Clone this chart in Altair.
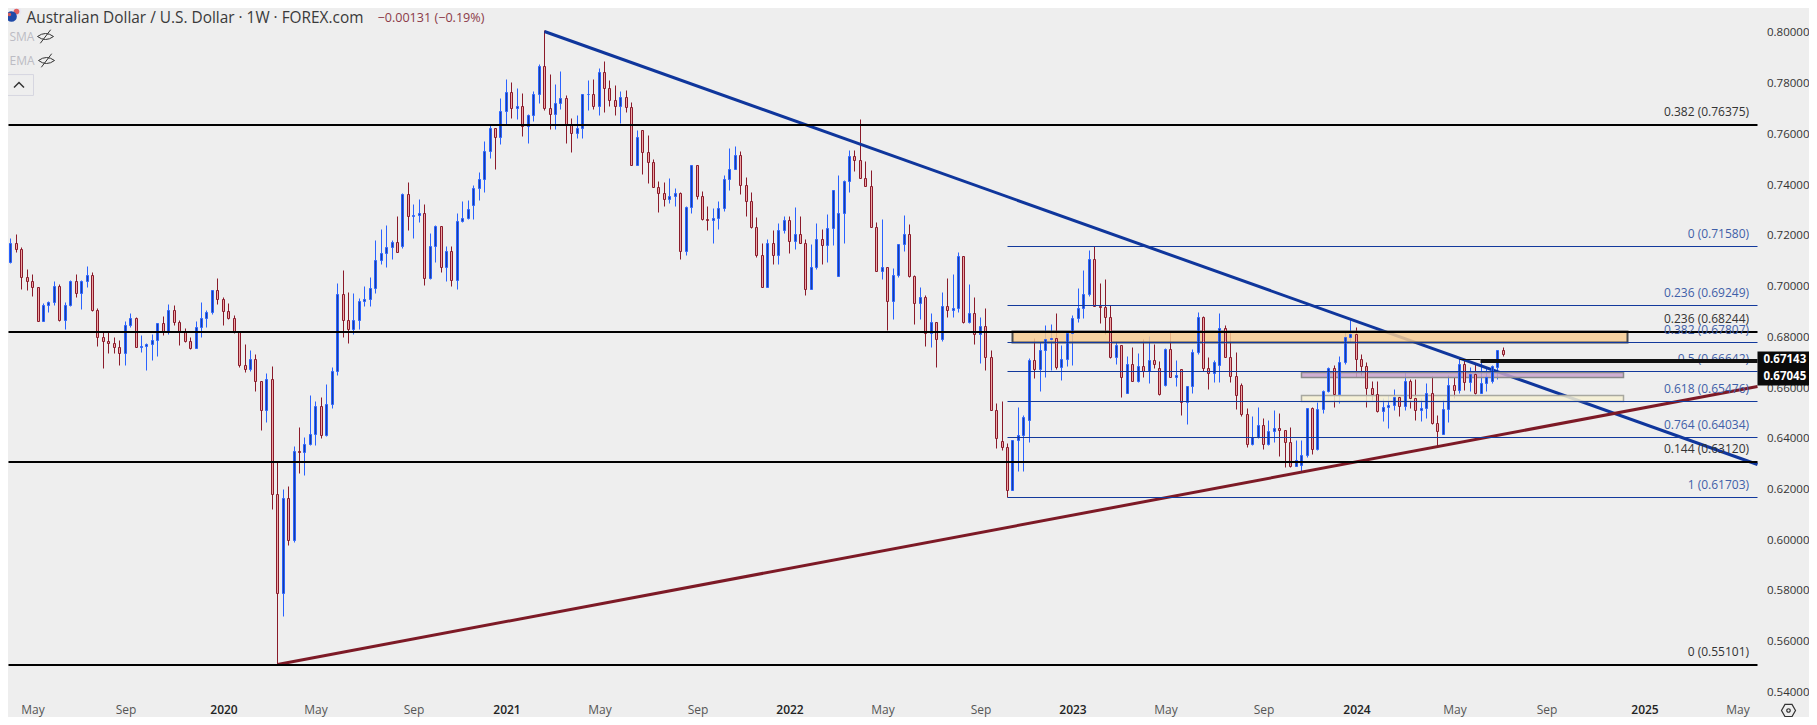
import altair as alt
import pandas as pd

highs = [.7188,.7204,.7154,.7066,.7047,.6997,.6932,.6940,.7020,.7007,.6936,.7024,.7047,.7024,.7079,.7055,.6912,.6823,.6820,.6799,.6787,.6862,.6894,.6879,.6807,.6774,.6811,.6853,.6882,.6929,.6924,.6865,.6833,.6798,.6862,.6937,.6905,.6984,.7030,.6955,.6933,.6884,.6813,.6771,.6748,.6732,.6624,.6657,.6685,
.6308,.6200,.6212,.6369,.6444,.6405,.6569,.6547,.6562,.6614,.6681,.7012,.7063,.6976,.6972,.6951,.7000,.7034,.7180,.7225,.7240,.7181,.7276,.7368,.7410,.7323,.7343,.7323,.7209,.7240,.7237,.7158,
.7158,.7287,.7335,.7338,.7397,.7449,.7572,.7638,.7622,.7740,.7816,.7803,.7780,.7760,.7677,.7769,.7874,.8008,.7835,.7795,.7848,.7753,.7663,.7673,.7756,.7811,.7815,.7860,.7886,.7811,.7791,.7768,.7772,.7724,.7614,.7614,.7594,.7500,.7413,.7409,.7425,.7385,.7370,.7314,.7476,.7476,.7374,.7314,.7307,.7334,.7437,.7544,.7552,.7531,.7429,.7370,.7271,.7169,.7184,.7220,.7247,.7275,.7275,.7311,.7275,.7184,.7165,.7247,.7224,.7283,.7378,.7437,.7417,.7535,.7535,.7657,.7492,.7456,.7251,.7263,.7074,.7071,.7165,
.7280,.7245,.7042,.6996,.6963,.6892,.6857,.6977,.7032,.7048,.7133,.7120,.7007,.6956,.6877,.6912,.6747,.6539,.6546,.6380,.6392,.6523,.6490,.6715,.6794,.6779,.6847,.6850,.6892,.6766,.6822,.6885,.6991,.7062,.7142,.7158,.7011,.7027,.6924,.6782,.6766,.6724,.6760,.6736,.6791,.6802,.6772,.6705,.6756,.6819,.6709,.6672,.6605,.6752,.6898,.6881,.6720,.6707,.6892,.6847,.6819,.6739,.6617,.6518,.6486,.6522,.6479,.6471,.6510,.6498,
.6431,.6443,.6393,.6393,.6518,.6522,.6544,.6590,.6680,.6689,.6726,.6818,.6873,.6837,.6732,.6702,.6626,.6626,.6557,.6571,.6594,.6568,.6663,.6632,.6634,.6557,.6617,.6647,.6492,.6553,.6649,.6640,.6714,.6709,.6680,.6698,.6705,.6680,.6689,.6748,.6761]
lows = [.7089,.7135,.6989,.6984,.6962,.6863,.6863,.6899,.6926,.6863,.6832,.6922,.6958,.6911,.6997,.6901,.6765,.6678,.6737,.6737,.6690,.6690,.6837,.6760,.6740,.6669,.6708,.6724,.6808,.6812,.6848,.6769,.6781,.6752,.6757,.6799,.6838,.6890,.6930,.6846,.6870,.6815,.6682,.6661,.6666,.6586,.6432,.6464,.6122,
.5510,.5699,.5979,.5991,.6262,.6255,.6373,.6373,.6401,.6410,.6518,.6649,.6799,.6775,.6812,.6830,.6921,.6921,.6972,.7087,.7075,.7106,.7135,.7151,.7221,.7191,.7252,.7004,.7029,.7096,.7055,.7020,
.7002,.6990,.7254,.7265,.7263,.7339,.7372,.7506,.7463,.7558,.7638,.7664,.7659,.7593,.7562,.7651,.7723,.7692,.7621,.7619,.7699,.7562,.7530,.7584,.7585,.7693,.7697,.7675,.7686,.7711,.7675,.7644,.7686,.7476,.7476,.7443,.7408,.7389,.7290,.7317,.7329,.7317,.7108,.7124,.7286,.7345,.7261,.7219,.7171,.7225,.7295,.7380,.7460,.7362,.7278,.7228,.7113,.6995,.6998,.7088,.7085,.7208,.7132,.7148,.7169,.6966,.6987,.7066,.7085,.7096,.7163,.7246,.7169,.7372,.7455,.7425,.7393,.7232,.7058,.7029,.6827,.6870,.7035,
.7138,.7036,.6850,.6869,.6764,.6761,.6682,.6785,.6878,.6877,.6898,.6856,.6856,.6772,.6698,.6670,.6510,.6363,.6354,.6170,.6197,.6272,.6272,.6387,.6636,.6588,.6642,.6669,.6673,.6630,.6685,.6689,.6858,.6873,.6961,.6920,.6854,.6811,.6716,.6693,.6563,.6578,.6624,.6622,.6642,.6618,.6677,.6572,.6606,.6640,.6606,.6492,.6456,.6578,.6732,.6664,.6594,.6621,.6622,.6719,.6622,.6515,.6486,.6366,.6375,.6400,.6358,.6373,.6387,.6331,
.6288,.6288,.6291,.6272,.6327,.6339,.6355,.6501,.6584,.6525,.6540,.6693,.6781,.6643,.6648,.6525,.6551,.6505,.6469,.6442,.6511,.6488,.6510,.6518,.6472,.6469,.6479,.6456,.6364,.6416,.6465,.6557,.6580,.6590,.6588,.6575,.6577,.6588,.6617,.6634,.6724]
closes = [.7168,.7148,.7037,.7021,.6997,.6863,.6924,.6936,.6999,.6866,.6924,.7020,.6974,.7020,.7042,.6905,.6798,.6784,.6777,.6758,.6735,.6845,.6876,.6761,.6763,.6770,.6786,.6853,.6817,.6904,.6857,.6817,.6784,.6757,.6837,.6873,.6896,.6983,.6947,.6900,.6873,.6820,.6690,.6674,.6711,.6624,.6510,.6632,.6179,
.5791,.6163,.5999,.6348,.6346,.6376,.6415,.6526,.6411,.6534,.6664,.6967,.6865,.6830,.6865,.6940,.6947,.6991,.7101,.7130,.7154,.7172,.7135,.7363,.7277,.7280,.7286,.7033,.7156,.7237,.7076,.7137,
.7025,.7255,.7267,.7303,.7385,.7421,.7531,.7622,.7589,.7689,.7764,.7701,.7709,.7630,.7673,.7756,.7866,.7701,.7677,.7720,.7740,.7634,.7602,.7622,.7756,.7756,.7709,.7843,.7780,.7732,.7709,.7744,.7705,.7476,.7586,.7527,.7488,.7389,.7366,.7342,.7354,.7366,.7137,.7311,.7476,.7354,.7263,.7259,.7267,.7307,.7421,.7460,.7516,.7397,.7334,.7232,.7121,.6998,.7169,.7121,.7220,.7259,.7176,.7204,.7169,.6990,.7074,.7184,.7161,.7228,.7378,.7287,.7413,.7512,.7496,.7425,.7393,.7232,.7058,.7074,.6940,.7042,.7165,
.7204,.7040,.6932,.6956,.6814,.6857,.6790,.6920,.6907,.6914,.7117,.6857,.6892,.6810,.6841,.6719,.6510,.6400,.6367,.6197,.6392,.6412,.6483,.6707,.6672,.6747,.6790,.6794,.6682,.6711,.6814,.6873,.6912,.6967,.7105,.6920,.6916,.6877,.6722,.6766,.6640,.6691,.6624,.6684,.6666,.6707,.6691,.6573,.6751,.6640,.6648,.6542,.6605,.6739,.6877,.6676,.6659,.6699,.6833,.6719,.6644,.6569,.6494,.6376,.6404,.6451,.6376,.6427,.6439,.6431,
.6384,.6292,.6314,.6333,.6518,.6358,.6515,.6585,.6676,.6576,.6699,.6798,.6811,.6711,.6684,.6597,.6573,.6509,.6522,.6530,.6564,.6526,.6626,.6557,.6510,.6518,.6577,.6459,.6430,.6514,.6610,.6590,.6693,.6623,.6653,.6577,.6617,.6640,.6685,.6748,.6732]
first_open = .7096
# opens that differ visibly from the previous close: {position in list: price}
open_gaps = {72:.7159, 85:.7320, 116:.7614, 152:.7040, 182:.6388, 187:.6471, 205:.6580, 211:.6676, 212:.6610, 215:.6672, 222:.6688, 226:.6609, 237:.6295, 263:.6416, 265:.6610, 272:.6627, 273:.6682}

opens = [first_open] + closes[:-1]
for k, v in open_gaps.items():
    opens[k] = v
n = min(len(highs), len(lows), len(closes))
dates = pd.date_range("2019-04-08", periods=n, freq="7D")
candles = pd.DataFrame({"date": dates, "open": opens[:n], "high": highs[:n], "low": lows[:n], "close": closes[:n]})
candles["dir"] = ["up" if c >= o else "down" for o, c in zip(candles["open"], candles["close"])]

price_ticks = [.54, .56, .58, .60, .62, .64, .66, .68, .70, .72, .74, .76, .78, .80]
month_ticks = [(2019,5,6),(2019,9,2),(2020,1,6),(2020,5,4),(2020,9,7),(2021,1,4),(2021,5,3),(2021,9,6),(2022,1,3),(2022,5,2),(2022,9,5),(2023,1,2),(2023,5,1),(2023,9,4),(2024,1,1),(2024,5,6),(2024,9,2),(2025,1,6),(2025,5,5)]

black_levels = [.76375, .68244, .63120, .55101]
black_labels = ["0.382 (0.76375)", "0.236 (0.68244)", "0.144 (0.63120)", "0 (0.55101)"]
fib_levels = [.71580, .69249, .67807, .66642, .65476, .64034, .61703]
fib_labels = ["0 (0.71580)", "0.236 (0.69249)", "0.382 (0.67807)", "0.5 (0.66642)", "0.618 (0.65476)", "0.764 (0.64034)", "1 (0.61703)"]
FIB_START = "2022-10-10"
END = "2025-05-31"

trend_blue = pd.DataFrame({"date": ["2021-02-22", END], "p": [.8006, .6297]})
trend_red = pd.DataFrame({"date": ["2020-03-16", END], "p": [.5510, .6607]})

FONT = "Open Sans"
xs = alt.Scale(domain=[alt.DateTime(year=2019, month=4, date=5), alt.DateTime(year=2025, month=5, date=31)], padding=0, round=True)
ys = alt.Scale(domain=[.53604, .8096], nice=False, zero=False, round=True)
X = alt.X("date:T", scale=xs, title=None)
Y = alt.Y("p:Q", scale=ys, title=None)
XA = alt.X("a:T", scale=xs, title=None)

x_axis = alt.Axis(
    values=[alt.DateTime(year=a, month=b, date=c) for a, b, c in month_ticks],
    labelExpr="month(datum.value)==0 ? timeFormat(datum.value,'%Y') : timeFormat(datum.value,'%b')",
    labelFontWeight={"condition": {"test": "month(datum.value)==0", "value": 600}, "value": 400},
    labelColor={"condition": {"test": "month(datum.value)==0", "value": "#222222"}, "value": "#555555"},
    labelFont=FONT, labelFontSize=12, labelPadding=2, ticks=False, domain=False, grid=False, title=None,
    labelOverlap=False, labelFlush=False,
)
y_axis = alt.Axis(values=price_ticks, format=".5f", orient="right", labelFont=FONT, labelFontSize=11.5,
                  labelColor="#333333", labelPadding=9, ticks=False, domain=False, grid=False, title=None,
                  labelOverlap=False, labelFlush=False)

up_c, dn_c = "#2962ff", "#8a1a2a"
up_f, dn_f = "#1b3f9e", "#eea6a6"
dirs = ["up", "down"]

wicks = alt.Chart(candles).mark_rule(strokeWidth=1).encode(
    x=alt.X("date:T", scale=xs, axis=x_axis, title=None),
    y=alt.Y("high:Q", scale=ys, axis=y_axis, title=None),
    y2="low:Q",
    stroke=alt.Stroke("dir:N", scale=alt.Scale(domain=dirs, range=[up_c, dn_c]), legend=None),
)
bodies = alt.Chart(candles).mark_bar(size=2, strokeWidth=1).encode(
    x=X,
    y=alt.Y("open:Q", scale=ys, title=None),
    y2="close:Q",
    stroke=alt.Stroke("dir:N", scale=alt.Scale(domain=dirs, range=[up_c, dn_c]), legend=None),
    fill=alt.Fill("dir:N", scale=alt.Scale(domain=dirs, range=[up_f, dn_f]), legend=None),
)

t_blue = alt.Chart(trend_blue).mark_line(color="#0f369c", strokeWidth=3).encode(x=X, y=Y)
t_red = alt.Chart(trend_red).mark_line(color="#7d1a26", strokeWidth=3).encode(x=X, y=Y)

def zone(a, b, p1, p2, fill, stroke, sw=1.5):
    df = pd.DataFrame({"a": [a], "b": [b], "p1": [p1], "p2": [p2]})
    return alt.Chart(df).mark_rect(fill=fill, stroke=stroke, strokeWidth=sw, fillOpacity=0.85).encode(
        x=XA, x2="b:T",
        y=alt.Y("p1:Q", scale=ys, title=None), y2="p2:Q",
    )

zones = [
    zone("2022-10-17", "2024-12-15", .68244, .67807, "#f7cd93", "#4a4a4a", 2),
    zone("2023-10-23", "2024-12-10", .6661, .6640, "#c9a3cc", "#8a8a8a"),
    zone("2023-10-23", "2024-12-10", .65693, .65457, "#f6f0d2", "#a8a8a0"),
]

fib_df = pd.DataFrame({"p": fib_levels, "label": fib_labels, "a": [FIB_START]*7, "b": [END]*7})
black_df = pd.DataFrame({"p": black_levels, "label": black_labels, "a": ["2019-04-05"]*4, "b": [END]*4})
fib_lines = alt.Chart(fib_df).mark_rule(color="#12399c", strokeWidth=1).encode(x=XA, x2="b:T", y=Y)
black_lines = alt.Chart(black_df).mark_rule(color="#000000", strokeWidth=2, yOffset=0.5).encode(x=XA, x2="b:T", y=Y)
fib_text = alt.Chart(fib_df).mark_text(align="right", baseline="middle", dy=-12.7, font=FONT, fontSize=12, color="#3f5fa8").encode(
    x=alt.value(1740.6), y=Y, text="label:N")
black_text = alt.Chart(black_df).mark_text(align="right", baseline="middle", dy=-12.7, font=FONT, fontSize=12, color="#333333").encode(
    x=alt.value(1740.6), y=Y, text="label:N")

thick = alt.Chart(pd.DataFrame({"a": ["2024-06-09"], "b": [END], "p": [.6708]})).mark_rule(color="#111111", strokeWidth=4, yOffset=0.5).encode(
    x=XA, x2="b:T", y=Y)
thin = alt.Chart(pd.DataFrame({"a": ["2024-05-13"], "b": ["2024-06-09"], "p": [.67143]})).mark_rule(color="#111111", strokeWidth=1).encode(
    x=XA, x2="b:T", y=Y)

one = pd.DataFrame({"a": [0]})
price_box = alt.Chart(one).mark_rect(color="#0a0a0a").encode(
    x=alt.value(1749), x2=alt.value(1801), y=alt.value(343), y2=alt.value(377))

def label(text, x, y, size, color, weight=400):
    return alt.Chart(pd.DataFrame({"t": [text]})).mark_text(
        align="left", baseline="middle", font=FONT, fontSize=size, color=color, fontWeight=weight).encode(
        x=alt.value(x), y=alt.value(y), text="t:N")

def icon(shape, x, y, size, stroke=None, fill=None, sw=1.0):
    kw = {"shape": shape, "size": size, "strokeWidth": sw, "opacity": 1}
    if fill:
        kw["fill"] = fill; kw["filled"] = True
    if stroke:
        kw["stroke"] = stroke
    if not fill:
        kw["filled"] = False
    return alt.Chart(one).mark_point(**kw).encode(x=alt.value(x), y=alt.value(y))

EYE = "M-1,0 Q0,-0.75 1,0 Q0,0.75 -1,0 Z M-0.65,0.85 L0.65,-0.85"
HEX = "M-0.5,-0.87 L0.5,-0.87 L1,0 L0.5,0.87 L-0.5,0.87 L-1,0 Z"
CARET = "M-1,0.5 L0,-0.5 L1,0.5"
BTN = "M-1,-0.72 L1,-0.72 L1,0.72 L-1,0.72 Z"

decor = [
    icon("circle", 8, 3, 95, fill="#e8e8f2"),
    icon("circle", 8, 3, 32, fill="#e06060"),
    icon("circle", 3, 8, 115, fill="#1f4aa8"),
    icon("circle", 1, 6, 12, fill="#d85a5a"),
    label("Australian Dollar / U.S. Dollar · 1W · FOREX.com", 18, 9, 15.4, "#3a3a3a"),
    label("−0.00131 (−0.19%)", 369, 9, 12.6, "#8c3a48"),
    label("SMA", 1, 28.5, 12, "#bcbcc4"),
    label("EMA", 1, 52.5, 12, "#bcbcc4"),
    icon(EYE, 37, 28, 256, stroke="#333333"),
    icon(EYE, 38, 52, 256, stroke="#333333"),
    icon(BTN, 10.5, 76.5, 841, stroke="#d6d6e0", sw=1),
    icon(CARET, 10.5, 76.5, 100, stroke="#333333", sw=1.5),
    icon(HEX, 1780, 702, 196, stroke="#333333", sw=1.2),
    icon("circle", 1780, 702, 12, stroke="#333333", sw=1.2),
    label("0.67143", 1755, 351.3, 11.5, "#ffffff", 700),
    label("0.67045", 1755, 368.7, 11.5, "#ffffff", 700),
]

chart = alt.layer(
    wicks, t_blue, t_red, *zones, bodies, fib_lines, black_lines, fib_text, black_text,
    thin, thick, price_box, *decor,
).properties(
    width=1749, height=694, background="#eeeeee",
    autosize="none", padding={"left": 0.5, "top": 0.5, "right": 51.5, "bottom": 14.5},
).configure_view(strokeWidth=0)

chart.save("out.html", embed_options={"renderer": "svg", "actions": False})
